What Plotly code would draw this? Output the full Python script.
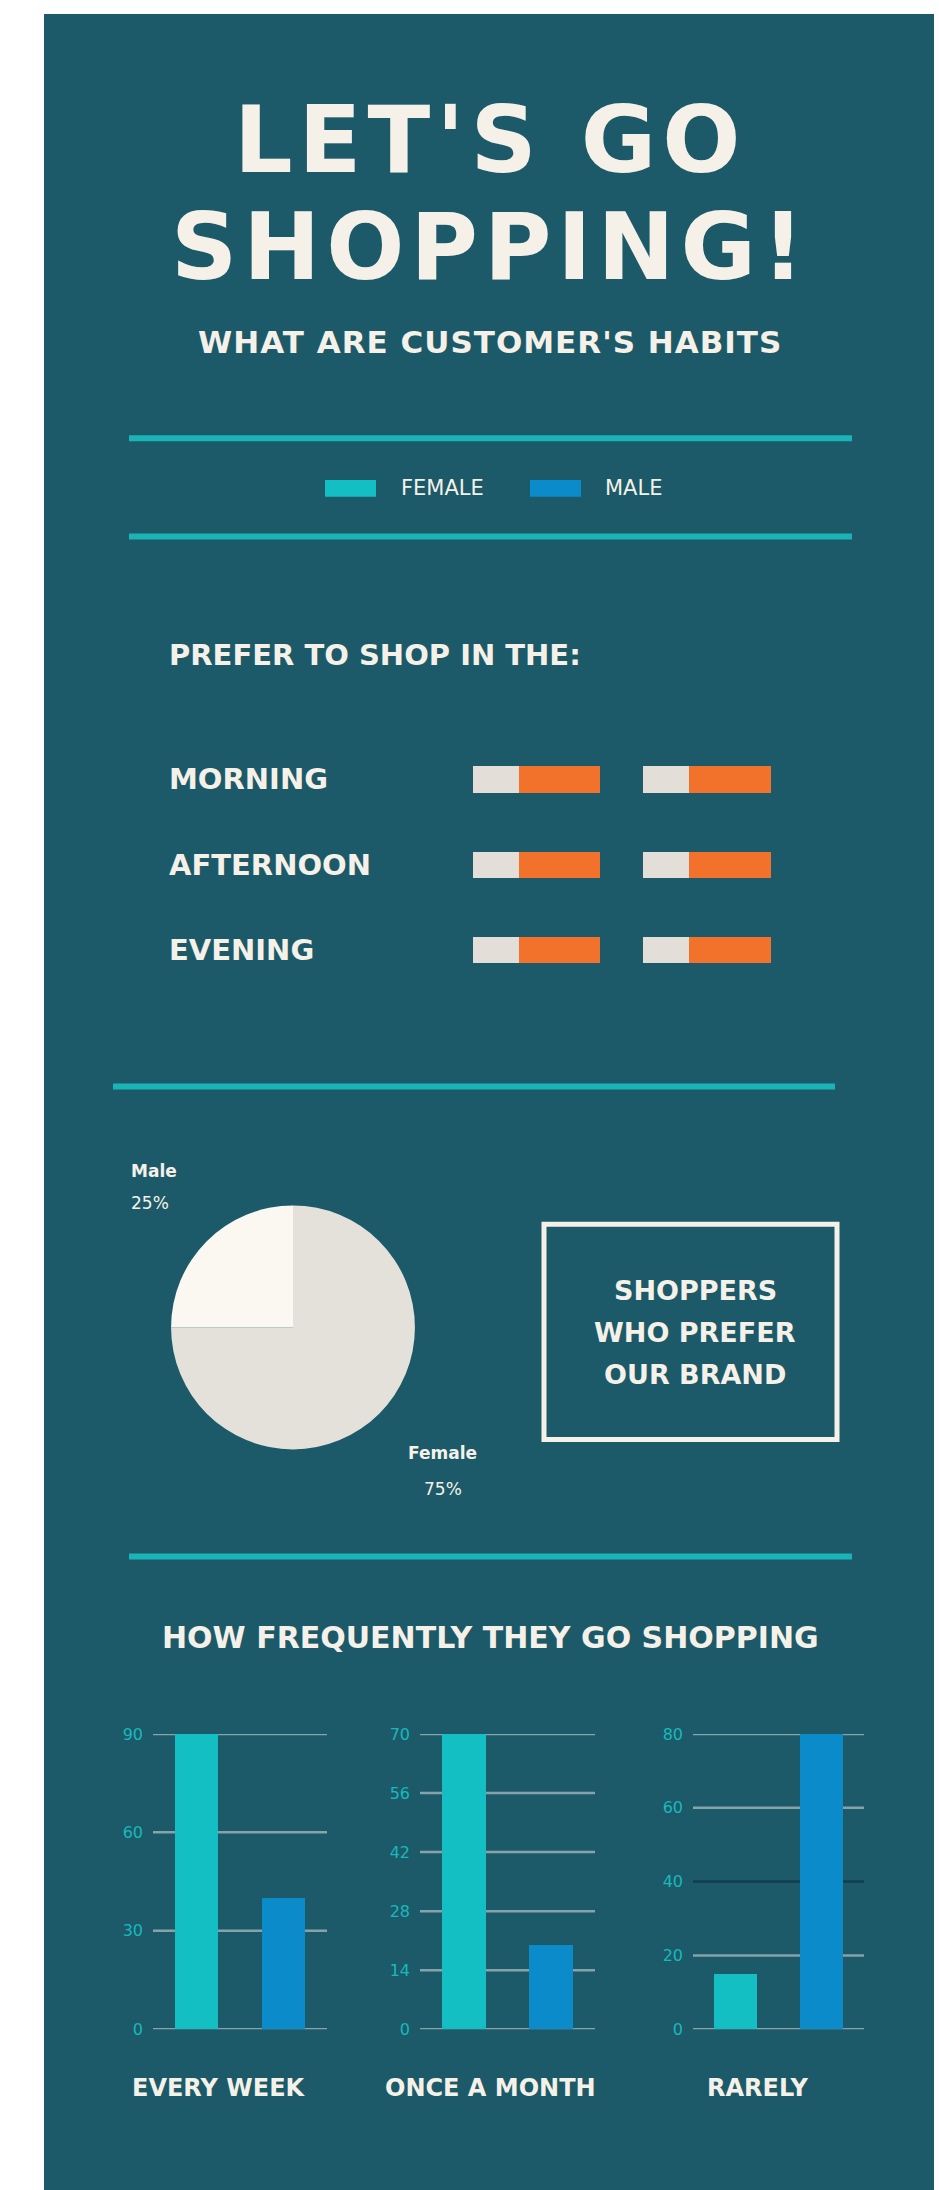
import plotly.graph_objects as go

W, H = 939, 2190


def px(x):
    return x / W


def py(y):
    return 1 - y / H


# ---------------- data ----------------
times = ["MORNING", "AFTERNOON", "EVENING"]
light_col1 = [36, 36, 36]
orange_col1 = [64, 64, 64]
light_col2 = [36, 36, 36]
orange_col2 = [64, 64, 64]

pie_labels = ["Female", "Male"]
pie_values = [75, 25]

freq_categories = ["EVERY WEEK", "ONCE A MONTH", "RARELY"]
genders = ["Female", "Male"]
female_vals = [90, 70, 15]
male_vals = [40, 20, 80]
tick_sets = [[0, 30, 60, 90], [0, 14, 28, 42, 56, 70], [0, 20, 40, 60, 80]]

box_lines = ["SHOPPERS", "WHO PREFER", "OUR BRAND"]

# ---------------- style ----------------
PANEL = "#1c5a69"
TXT = "#f5f1e8"
TEAL_LINE = "#1ab4b6"
FEMALE_C = "#14bfc3"
MALE_C = "#0b8bca"
LIGHT_BAR = "#e3dfd8"
ORANGE_BAR = "#f2712b"
PIE_MALE = "#fbf8f2"
PIE_FEMALE = "#e4e1db"
GRID = "#86a2aa"
GRID_DARK = "#163e4a"
TICK_C = "#19b8bb"
FONT = "DejaVu Sans"

fig = go.Figure()

# time of day stacked bars (two columns)
for light, orange, xa in [(light_col1, orange_col1, "x"), (light_col2, orange_col2, "x2")]:
    fig.add_trace(go.Bar(y=times, x=light, orientation="h", marker_color=LIGHT_BAR,
                         marker_line_width=0, width=0.31, xaxis=xa, yaxis="y",
                         showlegend=False, hoverinfo="skip"))
    fig.add_trace(go.Bar(y=times, x=orange, orientation="h", marker_color=ORANGE_BAR,
                         marker_line_width=0, width=0.31, xaxis=xa, yaxis="y",
                         showlegend=False, hoverinfo="skip"))

# pie (Female first, clockwise from 12 o'clock -> Male ends in the top-left quadrant)
fig.add_trace(go.Pie(labels=pie_labels, values=pie_values, sort=False,
                     direction="clockwise", rotation=0,
                     marker=dict(colors=[PIE_FEMALE, PIE_MALE], line=dict(width=0)),
                     textinfo="none", hoverinfo="label+percent", showlegend=False,
                     domain=dict(x=[px(170), px(416)], y=[py(1453), py(1207)])))

# frequency bar charts
chart_x = [(153, 327), (420, 595), (693, 864)]
for i in range(3):
    n = 3 + i
    fig.add_trace(go.Bar(x=genders, y=[female_vals[i], male_vals[i]],
                         marker_color=[FEMALE_C, MALE_C], marker_line_width=0,
                         width=0.5, xaxis=f"x{n}", yaxis=f"y{n}",
                         showlegend=False))

layout = dict(
    width=W, height=H,
    margin=dict(l=0, r=0, t=0, b=0),
    paper_bgcolor="white", plot_bgcolor="rgba(0,0,0,0)",
    barmode="stack", bargap=0,
    showlegend=False,
    font=dict(family=FONT, color=TXT),
)

layout["xaxis"] = dict(domain=[px(473), px(600)], range=[0, 100], visible=False, anchor="y")
layout["xaxis2"] = dict(domain=[px(643), px(771)], range=[0, 100], visible=False, anchor="y")
layout["yaxis"] = dict(domain=[py(992), py(734)], type="category", categoryorder="array",
                       categoryarray=times, range=[len(times) - 0.5, -0.5],
                       visible=False, anchor="x")

for i in range(3):
    n = 3 + i
    x0, x1 = chart_x[i]
    layout[f"xaxis{n}"] = dict(domain=[px(x0), px(x1)], range=[-0.5, 1.5],
                               showticklabels=False, showgrid=False, zeroline=False,
                               showline=False, anchor=f"y{n}")
    layout[f"yaxis{n}"] = dict(domain=[py(2038), py(1740)], range=[0, max(tick_sets[i])],
                               tickvals=tick_sets[i], showgrid=False,
                               zeroline=False, showline=False,
                               tickfont=dict(family=FONT, size=16, color=TICK_C),
                               ticklabelstandoff=9, anchor=f"x{n}")

shapes = []
# panel background
shapes.append(dict(type="rect", xref="paper", yref="paper", x0=px(44), x1=px(934),
                   y0=-0.02, y1=py(5), fillcolor=PANEL, line_width=0, layer="below"))
# teal separator lines
for y, x0, x1 in [(433, 129, 852), (532, 129, 852), (1087, 113, 835), (1561, 129, 852)]:
    shapes.append(dict(type="line", xref="paper", yref="paper", x0=px(x0), x1=px(x1),
                       y0=py(y), y1=py(y), line=dict(color=TEAL_LINE, width=6), layer="below"))
# legend swatches
for (x0, x1), c in [((325, 376), FEMALE_C), ((530, 581), MALE_C)]:
    shapes.append(dict(type="rect", xref="paper", yref="paper", x0=px(x0), x1=px(x1),
                       y0=py(492), y1=py(475), fillcolor=c, line_width=0, layer="below"))
# brand box
shapes.append(dict(type="rect", xref="paper", yref="paper", x0=px(544), x1=px(837),
                   y0=py(1443), y1=py(1226), line=dict(color=TXT, width=5),
                   fillcolor="rgba(0,0,0,0)", layer="above"))
# grid lines of the frequency charts (drawn beneath the bars)
for i in range(3):
    n = 3 + i
    for v in tick_sets[i]:
        col = GRID_DARK if (i == 2 and v == 40) else GRID
        shapes.append(dict(type="line", xref=f"x{n}", yref=f"y{n}", x0=-0.5, x1=1.5,
                           y0=v, y1=v, line=dict(color=col, width=2.5), layer="below"))
layout["shapes"] = shapes

ann = []


def text(t, x, y, size, xanchor="center", bold=True, color=TXT, xref="paper", yref="paper",
         spacing=None):
    s = f"<b>{t}</b>" if bold else t
    if spacing:
        s = f'<span style="letter-spacing:{spacing}px">{s}</span>'
    ann.append(dict(text=s, x=x, y=y, xref=xref, yref=yref,
                    xanchor=xanchor, yanchor="middle", showarrow=False,
                    font=dict(family=FONT, size=size, color=color)))


# title
text("LET'S GO", px(490), py(133), 92, spacing=6)
text("SHOPPING!", px(490), py(241), 92, spacing=6)
text("WHAT ARE CUSTOMER'S HABITS", px(490), py(336), 31, spacing=1)
# legend labels
text("FEMALE", px(399), py(483), 21, xanchor="left", bold=False)
text("MALE", px(603), py(483), 21, xanchor="left", bold=False)
# time of day section
text("PREFER TO SHOP IN THE:", px(167), py(652), 29, xanchor="left")
for k, t in enumerate(times):
    text(t, px(167), k, 29, xanchor="left", yref="y")
# pie labels
text(pie_labels[1], px(129), py(1172), 17, xanchor="left")
text(f"{pie_values[1]}%", px(129), py(1204), 17, xanchor="left", bold=False)
text(pie_labels[0], px(442), py(1457), 17)
text(f"{pie_values[0]}%", px(443), py(1493), 17, bold=False)
# brand box text
for t, y in zip(box_lines, [1293, 1335, 1377]):
    text(t, px(695), py(y), 27)
# frequency section
text("HOW FREQUENTLY THEY GO SHOPPING", px(490), py(1643), 30)
for t, xc in zip(freq_categories, [219, 490, 757]):
    text(t, px(xc), py(2097), 24)

layout["annotations"] = ann
fig.update_layout(**layout)
fig.write_html("out.html", config={"displayModeBar": False},
               post_script="document.body.style.margin='0';document.body.style.padding='0';")
